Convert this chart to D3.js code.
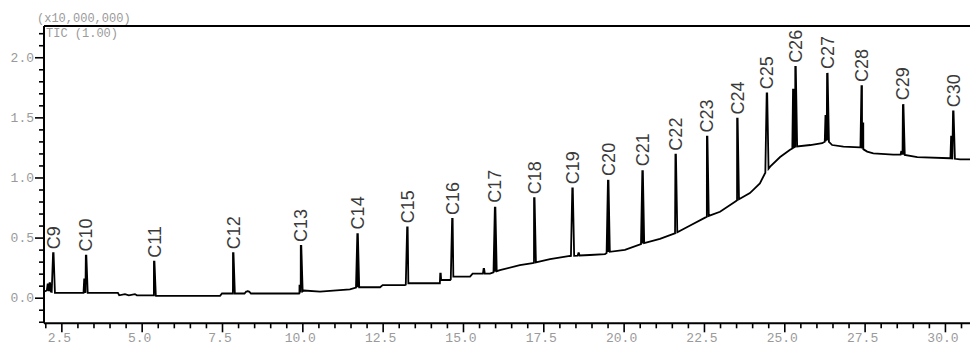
<!DOCTYPE html>
<html>
<head>
<meta charset="utf-8">
<script src="https://cdn.jsdelivr.net/npm/d3@7/dist/d3.min.js"></script>
<style>
  html, body { margin: 0; padding: 0; background: #fff; }
  svg { display: block; }
</style>
</head>
<body>
<svg id="chart" width="970" height="346"></svg>
<script>
// ---- Data ----
const peakNames = ["C9","C10","C11","C12","C13","C14","C15","C16","C17","C18","C19","C20","C21","C22","C23","C24","C25","C26","C27","C28","C29","C30"];
const peakTimes = [2.25,3.27,5.39,7.85,9.96,11.72,13.27,14.67,16.0,17.22,18.41,19.52,20.59,21.62,22.60,23.54,24.46,25.35,26.34,27.41,28.70,30.26];
const peakHeights = [0.37,0.35,0.30,0.37,0.43,0.535,0.585,0.655,0.757,0.827,0.91,0.98,1.06,1.19,1.34,1.49,1.70,1.92,1.87,1.76,1.61,1.55];

// baseline trace (time, intensity x10,000,000)
const baselineTimes  = [1.96,2.05,2.30,3.10,3.40,4.26,4.30,4.48,4.60,4.79,4.85,5.38,5.45,7.44,7.50,7.84,8.20,8.25,8.35,8.40,9.90,10.05,10.55,11.48,11.72,12.42,12.50,13.19,13.30,14.28,14.32,14.60,14.70,15.22,15.30,15.84,16.00,16.15,16.77,17.21,17.71,18.33,18.95,19.42,19.52,20.04,20.59,21.13,21.60,22.07,22.59,23.00,23.53,23.93,24.24,24.40,24.56,24.87,25.18,25.34,25.81,26.18,26.34,26.49,26.84,27.37,27.58,27.77,28.39,28.70,29.14,30.16,30.47,30.78];
const baselineValues = [0.05,0.06,0.04,0.04,0.04,0.04,0.02,0.03,0.02,0.03,0.02,0.02,0.015,0.015,0.035,0.035,0.035,0.05,0.05,0.035,0.035,0.06,0.05,0.07,0.087,0.087,0.105,0.105,0.12,0.12,0.147,0.147,0.175,0.175,0.20,0.20,0.216,0.23,0.27,0.29,0.32,0.347,0.355,0.363,0.38,0.397,0.45,0.49,0.535,0.60,0.674,0.715,0.81,0.87,0.95,1.035,1.09,1.17,1.23,1.256,1.27,1.285,1.31,1.27,1.256,1.25,1.215,1.20,1.19,1.19,1.17,1.16,1.15,1.15];

// small unlabeled peaks / shoulders
const minorTimes   = [2.08,2.14,3.22,8.30,9.92,14.30,15.65,18.60,25.28,26.29,27.45,28.65,30.20];
const minorHeights = [0.11,0.12,0.16,0.055,0.10,0.20,0.24,0.37,1.73,1.52,1.45,1.22,1.34];

// axis ticks
const xTickLabels = ["2.5","5.0","7.5","10.0","12.5","15.0","17.5","20.0","22.5","25.0","27.5","30.0"];
const yTickLabels = ["0.0","0.5","1.0","1.5","2.0"];
const scaleText = "(x10,000,000)";
const traceText = "TIC (1.00)";

// ---- Layout ----
const svg = d3.select("#chart");
const mLeft = 44, mRight = 970, mTop = 26, mBottom = 323.3;
const x = d3.scaleLinear().domain([1.96, 30.78]).range([mLeft, mRight]);
const y = d3.scaleLinear().domain([-0.213, 2.26]).range([mBottom, mTop]);

// baseline lookup for peak feet
const bis = d3.bisector(d => d).left;
function baseAt(t) {
  let i = bis(baselineTimes, t);
  if (i <= 0) return baselineValues[0];
  if (i >= baselineTimes.length) return baselineValues[baselineValues.length - 1];
  const t0 = baselineTimes[i-1], t1 = baselineTimes[i];
  const v0 = baselineValues[i-1], v1 = baselineValues[i];
  return v0 + (v1 - v0) * (t - t0) / (t1 - t0);
}

// build trace points
let pts = baselineTimes.map((t, i) => [t, baselineValues[i]]);
function addPeak(t, h, w) {
  pts.push([t - w, baseAt(t - w)]);
  pts.push([t - 0.008, h]);
  pts.push([t + 0.008, h]);
  pts.push([t + w, baseAt(t + w)]);
}
peakTimes.forEach((t, i) => addPeak(t, peakHeights[i], 0.05));
minorTimes.forEach((t, i) => addPeak(t, minorHeights[i], 0.03));
pts.sort((a, b) => a[0] - b[0]);

const grey = "#9a9a9a";
const monoFont = "'Liberation Mono', 'DejaVu Sans Mono', monospace";

// trace
svg.append("path")
  .datum(pts)
  .attr("fill", "none")
  .attr("stroke", "#000")
  .attr("stroke-width", 1.8)
  .attr("stroke-linejoin", "miter")
  .attr("d", d3.line().x(d => x(d[0])).y(d => y(d[1])));

// frame line at top
svg.append("line").attr("x1", mLeft).attr("x2", mRight).attr("y1", mTop).attr("y2", mTop)
  .attr("stroke", "#000").attr("stroke-width", 2);

// y axis
const yTicks = d3.range(-2, 23).map(k => k / 10);
const yAxis = svg.append("g").attr("transform", `translate(${mLeft},0)`);
yAxis.call(d3.axisLeft(y).tickValues(yTicks).tickFormat("").tickSizeOuter(0).tickSize(5));
yAxis.select(".domain").attr("stroke-width", 2).attr("d", `M0,${mTop}V${mBottom}`);
yAxis.selectAll(".tick line").attr("stroke-width", 1.6)
  .attr("x2", d => (Math.round(d * 10) % 5 === 0) ? -9 : -5);
yTickLabels.forEach(s => {
  svg.append("text").attr("x", 34).attr("y", y(+s)).attr("dy", "0.35em")
    .attr("text-anchor", "end").attr("font-family", monoFont).attr("font-size", 13)
    .attr("fill", grey).text(s);
});

// x axis
const xTicks = d3.range(4, 62).map(k => k / 2);
const xAxis = svg.append("g").attr("transform", `translate(0,${mBottom})`);
xAxis.call(d3.axisBottom(x).tickValues(xTicks).tickFormat("").tickSizeOuter(0).tickSize(5));
xAxis.select(".domain").attr("stroke-width", 2).attr("d", `M${mLeft},0H${mRight}`);
xAxis.selectAll(".tick line").attr("stroke-width", 1.6)
  .attr("y2", d => (Math.round(d * 2) % 5 === 0) ? 9 : 5);
xTickLabels.forEach(s => {
  svg.append("text").attr("x", x(+s) - 2).attr("y", 342)
    .attr("text-anchor", "middle").attr("font-family", monoFont).attr("font-size", 13)
    .attr("fill", grey).text(s);
});

// header texts
svg.append("text").attr("x", 37).attr("y", 22).attr("font-family", monoFont)
  .attr("font-size", 12).attr("fill", grey).text(scaleText);
svg.append("text").attr("x", 46).attr("y", 37).attr("font-family", monoFont)
  .attr("font-size", 12).attr("fill", grey).attr("xml:space", "preserve").text(traceText);

// peak labels
peakNames.forEach((n, i) => {
  const px = x(peakTimes[i]), py = y(peakHeights[i]) - 4;
  svg.append("text")
    .attr("transform", `translate(${px},${py}) rotate(-90)`)
    .attr("dy", "0.35em")
    .attr("text-anchor", "start")
    .attr("font-family", "'Liberation Sans', Arial, sans-serif")
    .attr("font-size", 18)
    .attr("fill", "#3a3a3a")
    .text(n);
});
</script>
</body>
</html>
